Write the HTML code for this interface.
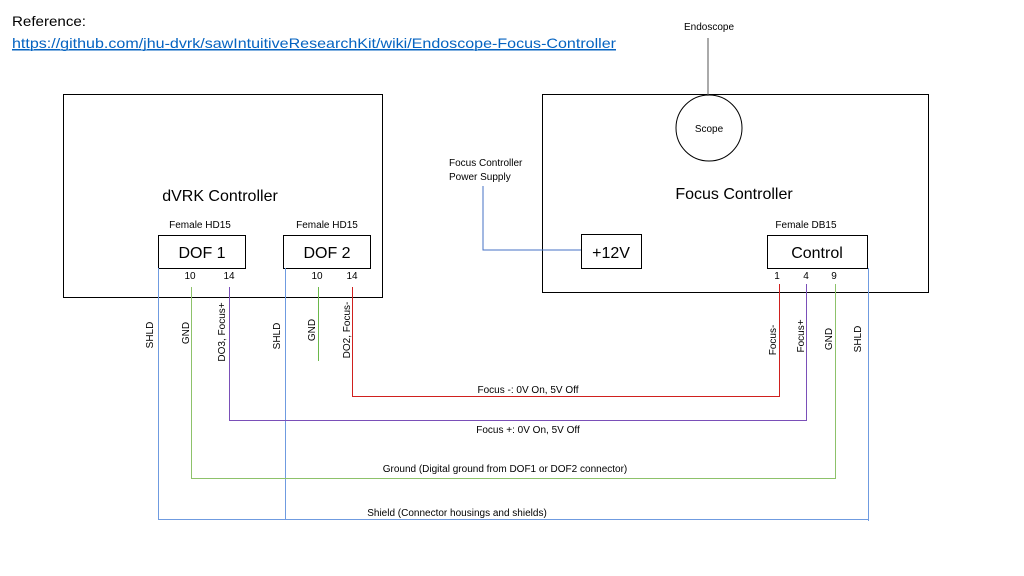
<!DOCTYPE html>
<html><head><meta charset="utf-8"><style>
html,body{margin:0;padding:0;background:#fff;}
svg{display:block;font-family:"Liberation Sans",sans-serif;}
</style></head><body>
<svg width="1024" height="576" viewBox="0 0 1024 576" xmlns="http://www.w3.org/2000/svg">
<text x="12" y="26" font-size="14" fill="#000" textLength="74" lengthAdjust="spacingAndGlyphs">Reference:</text>
<text x="12" y="48" font-size="14" fill="#0563C1" textLength="604" lengthAdjust="spacingAndGlyphs" text-decoration="underline">https://github.com/jhu-dvrk/sawIntuitiveResearchKit/wiki/Endoscope-Focus-Controller</text>
<line x1="12" y1="50" x2="616" y2="50" stroke="#0563C1" stroke-width="1"/>

<g fill="none" stroke="#000" stroke-width="1">
<rect x="63.5" y="94.5" width="319" height="203"/>
<rect x="542.5" y="94.5" width="386" height="198"/>
<rect x="158.5" y="235.5" width="87" height="33"/>
<rect x="283.5" y="235.5" width="87" height="33"/>
<rect x="767.5" y="235.5" width="100" height="33"/>
<rect x="581.5" y="234.5" width="60" height="34"/>
<circle cx="709" cy="128" r="33"/>
</g>
<line x1="708" y1="38" x2="708" y2="96" stroke="#555" stroke-width="1"/>

<g font-size="10" fill="#000" text-anchor="middle">
<text x="709" y="30">Endoscope</text>
<text x="709" y="132">Scope</text>
<text x="200" y="228">Female HD15</text>
<text x="327" y="228">Female HD15</text>
<text x="806" y="228">Female DB15</text>
<text x="190" y="279">10</text><text x="229" y="279">14</text>
<text x="317" y="279">10</text><text x="352" y="279">14</text>
<text x="777" y="279">1</text><text x="806" y="279">4</text><text x="834" y="279">9</text>
<text x="528" y="393">Focus -: 0V On, 5V Off</text>
<text x="528" y="433">Focus +: 0V On, 5V Off</text>
<text x="505" y="472">Ground (Digital ground from DOF1 or DOF2 connector)</text>
<text x="457" y="516">Shield (Connector housings and shields)</text>
</g>
<g font-size="10" fill="#000">
<text x="449" y="166">Focus Controller</text>
<text x="449" y="180">Power Supply</text>
</g>
<g font-size="16" fill="#000" text-anchor="middle">
<text x="220" y="201">dVRK Controller</text>
<text x="734" y="199">Focus Controller</text>
<text x="202" y="258">DOF 1</text>
<text x="327" y="258">DOF 2</text>
<text x="817" y="258">Control</text>
<text x="611" y="258">+12V</text>
</g>

<g font-size="10" fill="#000" text-anchor="middle">
<text transform="translate(153,335) rotate(-90)">SHLD</text>
<text transform="translate(189,333) rotate(-90)">GND</text>
<text transform="translate(225,332) rotate(-90)">DO3, Focus+</text>
<text transform="translate(280,336) rotate(-90)">SHLD</text>
<text transform="translate(315,330) rotate(-90)">GND</text>
<text transform="translate(350,330) rotate(-90)">DO2, Focus-</text>
<text transform="translate(776,340) rotate(-90)">Focus-</text>
<text transform="translate(804,336) rotate(-90)">Focus+</text>
<text transform="translate(832,339) rotate(-90)">GND</text>
<text transform="translate(861,339) rotate(-90)">SHLD</text>
</g>

<g fill="none" stroke-width="1">
<polyline points="483,186 483,250 581,250" stroke="#4472C4"/>
<polyline points="158.5,268 158.5,519.5 868.5,519.5" stroke="#6F9BE0"/>
<line x1="285.5" y1="268" x2="285.5" y2="519" stroke="#6F9BE0"/>
<line x1="868.5" y1="268" x2="868.5" y2="521" stroke="#6F9BE0"/>
<polyline points="191.5,287 191.5,478.5 835.5,478.5 835.5,284" stroke="#8DC26A"/>
<polyline points="229.5,287 229.5,420.5 806.5,420.5 806.5,284" stroke="#7A4FB8"/>
<polyline points="352.5,287 352.5,396.5 779.5,396.5 779.5,284" stroke="#D0201E"/>
<line x1="318.5" y1="287" x2="318.5" y2="361" stroke="#6AB84A"/>
</g>
</svg>
</body></html>
